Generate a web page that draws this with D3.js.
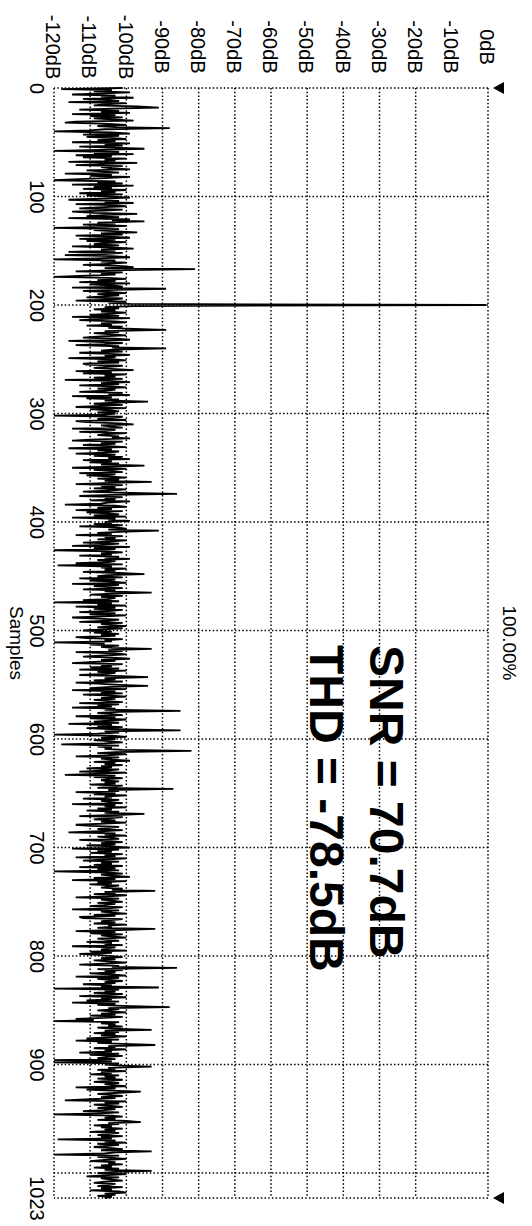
<!DOCTYPE html>
<html>
<head>
<meta charset="utf-8">
<script src="https://cdn.jsdelivr.net/npm/d3@7"></script>
<style>
  body { margin: 0; background: #fff; }
  text { font-family: "Liberation Sans", Arial, sans-serif; fill: #000; }
</style>
</head>
<body>
<div id="chart"></div>
<script>
// dB axis (drawn across the page, the chart is turned a quarter turn clockwise)
const dbTicks = [-120, -110, -100, -90, -80, -70, -60, -50, -40, -30, -20, -10, 0];
const dbTickLabels = ["-120dB", "-110dB", "-100dB", "-90dB", "-80dB", "-70dB", "-60dB",
                      "-50dB", "-40dB", "-30dB", "-20dB", "-10dB", "0dB"];
const dbGrid = [-120, -110, -100, -90, -80, -70, -60, -50, -40, -30, -20, 0];

// sample axis
const sampleGrid = [0, 100, 200, 300, 400, 500, 600, 700, 800, 900, 1000, 1023];
const sampleTicks = [0, 100, 200, 300, 400, 500, 600, 700, 800, 900, 1023];
const sampleTickLabels = ["0", "100", "200", "300", "400", "500", "600", "700", "800", "900", "1023"];

const xTitle = "Samples";
const topLabel = "100.00%";
const notes = ["SNR = 70.7dB", "THD = -78.5dB"];

// spectrum in dB, one value per sample
const spectrum = [
  -101,-118,-104,-109,-99,-106,-115,-103,-107,-98,-112,-105,-102,-116,-100,-106,
  -109,-97,-91,-104,-113,-102,-107,-99,-115,-103,-110,-101,-109,-104,-98,-114,
  -117,-105,-100,-108,-103,-88,-106,-110,-120,-104,-99,-112,-102,-111,-105,-100,
  -108,-103,-115,-99,-106,-101,-113,-104,-95,-107,-120,-102,-109,-98,-114,-104,
  -112,-100,-106,-103,-116,-97,-105,-114,-101,-107,-104,-99,-111,-106,-102,-117,
  -104,-110,-99,-106,-113,-120,-103,-108,-101,-115,-98,-109,-104,-112,-100,-107,
  -103,-113,-101,-111,-105,-99,-107,-116,-102,-106,-98,-114,-104,-100,-108,-113,
  -101,-106,-115,-109,-97,-105,-111,-102,-116,-99,-104,-95,-108,-103,-112,-100,
  -106,-120,-102,-109,-104,-97,-107,-101,-114,-105,-99,-113,-103,-111,-100,-106,
  -109,-102,-115,-104,-98,-107,-103,-116,-101,-106,-117,-104,-99,-108,-120,-103,
  -107,-100,-105,-112,-102,-98,-106,-81,-104,-114,-101,-107,-103,-111,-120,-105,
  -100,-108,-103,-113,-99,-110,-104,-101,-115,-89,-103,-112,-105,-100,-108,-102,
  -106,-111,-101,-104,-114,-100,-105,-99,-0.5,-98,-106,-102,-109,-103,-107,-100,
  -104,-110,-102,-115,-99,-108,-113,-103,-100,-107,-104,-111,-101,-105,-98,-89,
  -106,-102,-109,-104,-100,-107,-112,-103,-99,-116,-108,-101,-106,-114,-102,-104,
  -89,-103,-107,-101,-113,-105,-99,-106,-103,-116,-104,-100,-108,-102,-112,-111,
  -101,-105,-109,-103,-98,-114,-104,-112,-100,-106,-103,-109,-101,-117,-105,-99,
  -107,-102,-113,-104,-100,-108,-103,-106,-113,-101,-105,-99,-115,-104,-111,-102,
  -106,-94,-103,-109,-101,-107,-114,-100,-110,-105,-102,-108,-103,-106,-120,-101,
  -104,-108,-100,-114,-111,-102,-98,-107,-104,-101,-115,-103,-106,-113,-100,-105,
  -108,-102,-104,-99,-110,-115,-101,-107,-103,-112,-105,-100,-116,-104,-108,-102,
  -106,-114,-103,-109,-101,-105,-99,-112,-104,-110,-102,-107,-95,-103,-115,-100,
  -109,-104,-101,-113,-103,-111,-105,-100,-108,-102,-106,-93,-104,-114,-101,-107,
  -103,-109,-100,-105,-112,-102,-86,-104,-113,-101,-106,-103,-110,-99,-105,-107,
  -117,-103,-100,-108,-104,-114,-101,-111,-105,-102,-109,-100,-115,-103,-105,-99,
  -106,-104,-109,-101,-113,-103,-100,-105,-91,-102,-108,-104,-114,-101,-106,-103,
  -108,-100,-105,-112,-102,-107,-115,-99,-109,-103,-120,-105,-101,-107,-104,-113,
  -102,-106,-99,-108,-103,-105,-114,-101,-119,-104,-107,-100,-106,-103,-112,-102,
  -95,-105,-108,-101,-113,-103,-110,-104,-100,-115,-102,-109,-105,-101,-112,-103,
  -106,-93,-104,-110,-101,-107,-103,-105,-112,-102,-120,-104,-108,-100,-114,-103,
  -109,-101,-105,-113,-103,-110,-100,-106,-115,-108,-102,-105,-113,-101,-107,-104,
  -100,-108,-101,-106,-112,-104,-109,-102,-107,-103,-114,-111,-101,-106,-104,-120,
  -106,-110,-102,-107,-104,-93,-105,-101,-114,-103,-100,-106,-112,-104,-99,-107,
  -103,-109,-115,-101,-107,-104,-110,-102,-113,-100,-108,-103,-105,-113,-101,-94,
  -106,-103,-109,-101,-114,-108,-102,-94,-104,-110,-100,-115,-103,-107,-101,-112,
  -104,-100,-107,-103,-109,-105,-101,-113,-102,-108,-104,-115,-103,-106,-85,-102,
  -108,-104,-101,-114,-103,-110,-100,-105,-109,-102,-116,-104,-108,-101,-111,-103,
  -85,-106,-102,-108,-120,-104,-100,-107,-103,-109,-105,-101,-106,-118,-102,-108,
  -104,-106,-101,-82,-103,-108,-100,-105,-114,-102,-107,-104,-99,-109,-103,-106,
  -101,-107,-104,-111,-102,-105,-113,-100,-106,-117,-103,-109,-101,-105,-107,-102,
  -106,-103,-110,-101,-104,-108,-87,-105,-102,-114,-103,-109,-100,-106,-104,-112,
  -102,-107,-105,-101,-115,-103,-106,-100,-108,-104,-111,-102,-106,-95,-103,-113,
  -101,-105,-109,-103,-107,-100,-106,-114,-110,-102,-105,-108,-101,-107,-116,-103,
  -106,-100,-108,-104,-102,-113,-105,-101,-107,-103,-111,-104,-99,-115,-102,-108,
  -104,-110,-101,-106,-103,-114,-100,-105,-112,-102,-107,-104,-109,-101,-113,-103,
  -108,-102,-120,-105,-101,-107,-104,-99,-109,-103,-115,-100,-108,-104,-110,-102,
  -105,-107,-101,-104,-92,-106,-103,-109,-100,-105,-114,-102,-107,-104,-101,-108,
  -103,-106,-110,-101,-105,-115,-102,-107,-104,-100,-109,-103,-113,-112,-101,-105,
  -107,-103,-109,-100,-105,-104,-108,-92,-102,-114,-103,-110,-101,-107,-104,-100,
  -108,-105,-102,-111,-104,-106,-101,-115,-103,-105,-107,-100,-110,-104,-113,-108,
  -104,-101,-107,-103,-109,-105,-100,-106,-113,-102,-104,-86,-108,-101,-106,-103,
  -110,-104,-100,-114,-102,-108,-105,-101,-106,-103,-112,-104,-107,-91,-120,-102,
  -106,-103,-109,-101,-105,-113,-100,-107,-104,-111,-102,-115,-103,-108,-101,-88,
  -105,-102,-108,-104,-100,-107,-103,-110,-101,-106,-114,-109,-120,-102,-107,-103,
  -105,-101,-108,-104,-93,-106,-102,-109,-103,-107,-100,-105,-111,-102,-114,-104,
  -108,-101,-92,-105,-103,-109,-100,-106,-104,-113,-102,-110,-101,-105,-108,-103,
  -120,-104,-120,-102,-106,-101,-93,-105,-103,-108,-100,-107,-104,-110,-102,-106,
  -103,-108,-101,-105,-109,-102,-106,-104,-100,-114,-103,-111,-104,-96,-102,-108,
  -105,-101,-107,-103,-110,-117,-100,-106,-102,-109,-105,-101,-108,-103,-106,-112,
  -102,-107,-120,-104,-101,-106,-103,-108,-100,-96,-105,-102,-109,-104,-107,-101,
  -106,-103,-110,-102,-105,-108,-101,-107,-104,-119,-103,-106,-100,-108,-102,-105,
  -109,-104,-101,-107,-93,-103,-106,-120,-102,-108,-104,-100,-106,-110,-103,-105,
  -101,-107,-104,-109,-102,-106,-93,-103,-108,-100,-105,-111,-102,-107,-104,-101,
  -106,-109,-103,-105,-108,-101,-107,-104,-110,-102,-100,-106,-103,-108,-104,-106
];

// plot box in local (unrotated) coordinates
const width = 1110;   // samples direction
const height = 434;   // dB direction

const svg = d3.select("#chart").append("svg")
    .attr("width", 532)
    .attr("height", 1226);

svg.append("rect").attr("width", 532).attr("height", 1226).attr("fill", "#fff");

// turn everything a quarter clockwise: local x -> page down, local up -> page right
const g = svg.append("g")
    .attr("transform", "translate(488,88) rotate(90)");

const x = d3.scaleLinear().domain([0, 1023]).range([0, width]);
const y = d3.scaleLinear().domain([-120, 0]).range([height, 0]);

// dotted grid and frame
const dotted = sel => sel
    .attr("stroke", "#000")
    .attr("stroke-width", 1.5)
    .attr("stroke-dasharray", "1.5,2.2");

g.append("g").selectAll("line")
    .data(dbGrid)
    .join("line")
    .attr("x1", 0).attr("x2", width)
    .attr("y1", d => y(d)).attr("y2", d => y(d))
    .call(dotted);

g.append("g").selectAll("line")
    .data(sampleGrid)
    .join("line")
    .attr("x1", d => x(d)).attr("x2", d => x(d))
    .attr("y1", 0).attr("y2", height)
    .call(dotted);

// dB labels
const yAxis = g.append("g")
    .call(d3.axisLeft(y).tickValues(dbTicks).tickSize(0)
        .tickFormat((d, i) => dbTickLabels[i]));
yAxis.select(".domain").remove();
yAxis.selectAll("text")
    .attr("x", -41)
    .attr("dy", "0.36em")
    .style("text-anchor", "middle")
    .style("font-size", "20px")
    .style("font-family", "'Liberation Sans', Arial, sans-serif");

// sample labels
const xAxis = g.append("g")
    .attr("transform", `translate(0,${height})`)
    .call(d3.axisBottom(x).tickValues(sampleTicks).tickSize(0)
        .tickFormat((d, i) => sampleTickLabels[i]));
xAxis.select(".domain").remove();
xAxis.selectAll("text")
    .attr("y", 24)
    .attr("dy", 0)
    .style("font-size", "20px")
    .style("font-family", "'Liberation Sans', Arial, sans-serif");

g.append("text")
    .attr("x", x(511.5))
    .attr("y", height + 44)
    .attr("text-anchor", "middle")
    .style("font-size", "19px")
    .text(xTitle);

g.append("text")
    .attr("x", x(511.5))
    .attr("y", -15)
    .attr("text-anchor", "middle")
    .style("font-size", "19px")
    .text(topLabel);

// cursor markers at both ends
g.append("g").selectAll("path")
    .data([0, 1023])
    .join("path")
    .attr("d", d => `M${x(d) - 6},-16 L${x(d) + 6},-16 L${x(d)},-5 Z`)
    .attr("fill", "#000");

// the trace
const line = d3.line()
    .x((d, i) => x(i))
    .y(d => y(d));

g.append("path")
    .datum(spectrum)
    .attr("fill", "none")
    .attr("stroke", "#000")
    .attr("stroke-width", 1.8)
    .attr("stroke-linejoin", "miter")
    .attr("d", line);

// big results
g.selectAll(".note")
    .data(notes)
    .join("text")
    .attr("class", "note")
    .attr("x", width / 2 + 2)
    .attr("y", (d, i) => 118 + i * 60)
    .style("font-size", "48px")
    .style("font-weight", "bold")
    .text(d => d);
</script>
</body>
</html>
